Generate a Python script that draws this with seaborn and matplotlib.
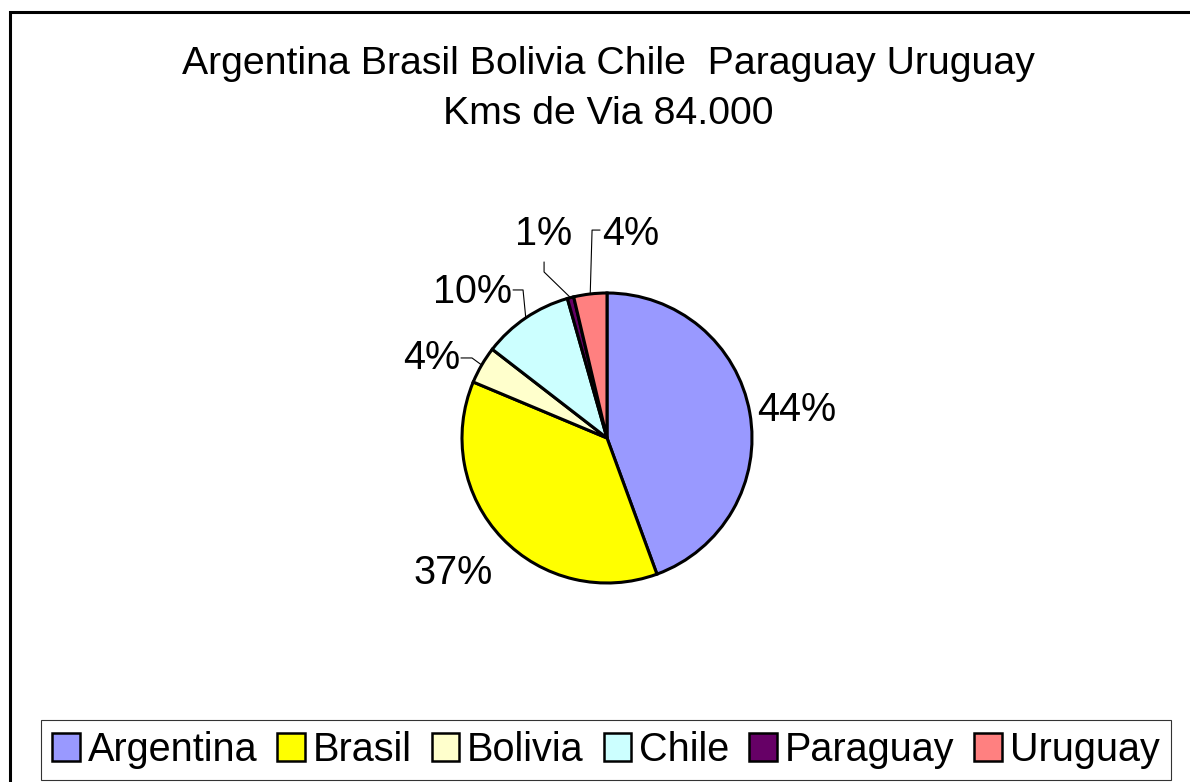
import matplotlib
matplotlib.use("Agg")
import matplotlib.pyplot as plt
import matplotlib.patches as mpatches
import seaborn as sns
import numpy as np

# data (kms de via)
paises = ["Argentina", "Brasil", "Bolivia", "Chile", "Paraguay", "Uruguay"]
kms = [37300, 31000, 3500, 8500, 600, 3100]
colores = ["#9999FF", "#FFFF00", "#FFFFCC", "#CCFFFF", "#660066", "#FF8080"]
titulo = "Argentina Brasil Bolivia Chile  Paraguay Uruguay\nKms de Via 84.000"

sns.set_theme(style="white")
plt.rcParams["font.family"] = ["Liberation Sans", "DejaVu Sans"]
plt.rcParams["text.color"] = "black"

W, H = 1190, 782
cx, cy, R = 607, 438, 145  # pie center / radius in pixels

fig = plt.figure(figsize=(W / 100, H / 100), dpi=100)
fig.patch.set_facecolor("white")
ax = fig.add_axes([0, 0, 1, 1])

pal = sns.color_palette(colores)
wedges, _ = ax.pie(kms, colors=pal, startangle=90, counterclock=False,
                   radius=1, wedgeprops=dict(edgecolor="black", linewidth=2.2))
ax.set_xlim(-cx / R, (W - cx) / R)
ax.set_ylim(-(H - cy) / R, cy / R)
ax.axis("off")

total = sum(kms)
pct = [f"{round(100 * k / total):.0f}%" for k in kms]

# label centres (data units, radius = 1)
lab_pos = [(1.31, 0.19), (-1.06, -0.93), (-1.21, 0.55),
           (-0.93, 1.01), (-0.44, 1.41), (0.16, 1.41)]
for p, (lx, ly) in zip(pct, lab_pos):
    ax.text(lx, ly, p, ha="center", va="center", fontsize=28.5, color="black")

# leader lines: elbow and end points for the small slices
leaders = {2: [(-0.931, 0.552), (-1.007, 0.552)],
           3: [(-0.579, 1.021), (-0.648, 1.021)],
           4: [(-0.434, 1.145), (-0.434, 1.214)],
           5: [(-0.103, 1.434), (-0.048, 1.434)]}
for i, pts in leaders.items():
    w = wedges[i]
    mid = np.deg2rad((w.theta1 + w.theta2) / 2)
    x0, y0 = np.cos(mid), np.sin(mid)
    xs = [x0] + [p[0] for p in pts]
    ys = [y0] + [p[1] for p in pts]
    ax.plot(xs, ys, color="black", lw=0.8)

fig.text(608 / W, 1 - 89 / H, titulo, ha="center", va="center",
         fontsize=28.3, linespacing=1.5, color="black")

# outer chart border
border = mpatches.Rectangle((10 / W, -0.1), 1.2, 1 - 12 / H + 0.1,
                            transform=fig.transFigure, fill=False,
                            edgecolor="black", linewidth=2.2)
fig.patches.append(border)

handles = [mpatches.Patch(facecolor=c, edgecolor="black", linewidth=1.8) for c in colores]
leg = fig.legend(handles, paises, loc="center", ncol=6,
                 bbox_to_anchor=(606 / W, 1 - 750 / H), fontsize=28.5,
                 frameon=True, fancybox=False, handlelength=0.7, handleheight=0.7,
                 handletextpad=0.2, columnspacing=0.5, borderpad=0.28,
                 borderaxespad=0)
leg.get_frame().set_edgecolor("black")
leg.get_frame().set_linewidth(0.8)
for t in leg.get_texts():
    t.set_color("black")

fig.savefig("out.png", dpi=100, facecolor="white")
